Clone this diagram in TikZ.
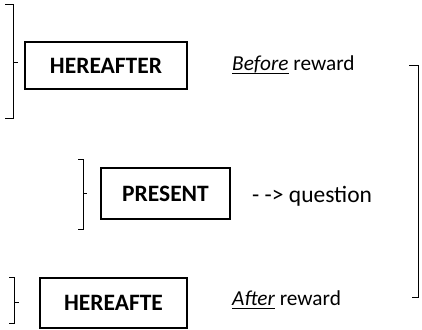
\documentclass[tikz,border=0pt]{standalone}
\usepackage{fontspec}
\setmainfont{Carlito}
% heavier underline, as a word processor draws it
\newcommand\thickul[1]{\setbox0\hbox{#1}\rlap{\rule[-4pt]{\wd0}{1.8pt}}\box0\relax}
\begin{document}
\begin{tikzpicture}[x=1pt,y=-1pt,
  termbox/.style={draw, line width=1.7pt, inner sep=0pt, font=\fontsize{23.5}{26}\selectfont\bfseries},
  note/.style={inner sep=0pt, font=\fontsize{21.3}{24}\selectfont},
  brace/.style={line width=1pt}]
\useasboundingbox (0,0) rectangle (422,329);

% boxes
\node[termbox, minimum width=162pt, minimum height=47pt] (hereafter) at (106,65.5) {HEREAFTER};
\node[termbox, minimum width=129pt, minimum height=51pt] (present) at (165.5,193.5) {PRESENT};
\node[termbox, minimum width=147pt, minimum height=50pt] (hereafte) at (113.5,303) {HEREAFTE};

% side notes
\node[note, anchor=west] (before) at (232,65) {\thickul{\textit{Before}} reward};
\node[note, anchor=west, font=\fontsize{23.5}{26}\selectfont] (question) at (252,196) {- -> question};
\node[note, anchor=west] (after) at (232,300) {\thickul{\textit{After}} reward};

% left brackets with a middle tick
\draw[brace] (5,5) -- (13,5) -- (13,118) -- (5,118) (13,62) -- (18,62);
\draw[brace] (78,159) -- (83,159) -- (83,229) -- (78,229) (83,193) -- (87,193);
\draw[brace] (9,277) -- (14,277) -- (14,323) -- (9,323) (14,302) -- (19,302);

% right bracket spanning the notes
\draw[brace] (409,65) -- (418,65) -- (418,297) -- (412,297);
\end{tikzpicture}
\end{document}
